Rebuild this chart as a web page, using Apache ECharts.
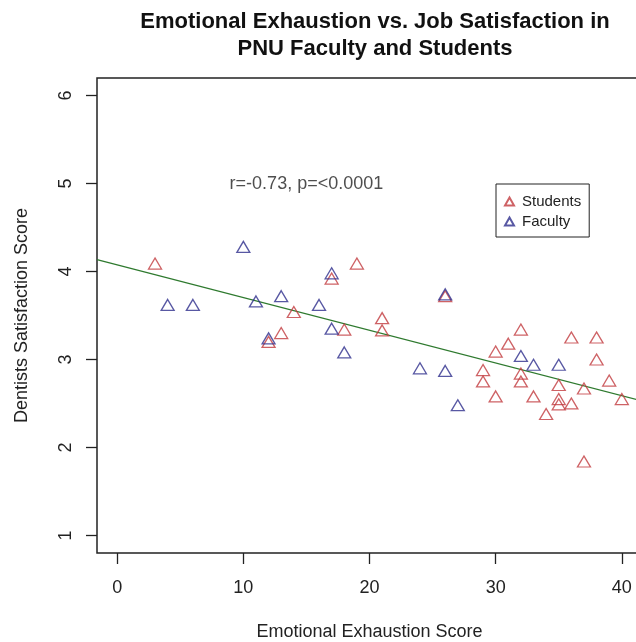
<!DOCTYPE html>
<html>
<head>
<meta charset="utf-8">
<script src="https://cdn.jsdelivr.net/npm/echarts@6/dist/echarts.min.js"></script>
<style>
html,body{margin:0;padding:0;background:#fff;overflow:hidden;}
#chart{width:636px;height:642px;}
</style>
</head>
<body>
<div id="chart"></div>
<script>
// ---- data ----
var titleLines = ['Emotional Exhaustion vs. Job Satisfaction in', 'PNU Faculty and Students'];
var xTitle = 'Emotional Exhaustion Score';
var yTitle = 'Dentists Satisfaction Score';
var xTicks = [0, 10, 20, 30, 40];
var yTicks = [1, 2, 3, 4, 5, 6];
var seriesNames = ['Students', 'Faculty'];
var annotation = 'r=-0.73, p=<0.0001';
var annotationPos = [15, 5];

var studentsX = [3, 12, 13, 14, 17, 18, 19, 21, 21, 26, 29, 29, 30, 30, 31, 32, 32, 32, 33, 34, 35, 35, 35, 36, 36, 37, 37, 38, 38, 39, 40];
var studentsY = [4.09, 3.20, 3.30, 3.54, 3.92, 3.34, 4.09, 3.47, 3.33, 3.72, 2.88, 2.75, 3.09, 2.58, 3.18, 3.34, 2.84, 2.75, 2.58, 2.38, 2.71, 2.55, 2.49, 3.25, 2.50, 2.67, 1.84, 3.25, 3.00, 2.76, 2.55];

var facultyX = [4, 6, 10, 11, 12, 13, 16, 17, 17, 18, 24, 26, 26, 27, 32, 33, 35];
var facultyY = [3.62, 3.62, 4.28, 3.66, 3.24, 3.72, 3.62, 3.98, 3.35, 3.08, 2.90, 3.74, 2.87, 2.48, 3.04, 2.94, 2.94];

// fitted line end points (at the plot limits)
var fitX = [-1.6, 41.6];
var fitY = [4.136, 2.528];

var xRange = [-1.6, 41.6];
var yRange = [0.8, 6.2];

function zip(a, b) { return a.map(function (v, i) { return [v, b[i]]; }); }

var FONT = '"Liberation Sans", Arial, sans-serif';
var RED = '#c23b3f';
var BLUE = '#2e2e8c';
var GREEN = '#2f7a2f';
var INK = '#222';

var chart = echarts.init(document.getElementById('chart'), null, {renderer: 'canvas'});
var option = {
  animation: false,
  backgroundColor: '#fff',
  textStyle: {fontFamily: FONT},
  title: {
    text: titleLines.join('\n'),
    left: 370,
    textAlign: 'center',
    top: 3,
    textStyle: {fontFamily: FONT, fontSize: 22, fontWeight: 'bold', color: '#111', lineHeight: 27}
  },
  grid: {
    left: 97, top: 78, right: -6, bottom: 89,
    outerBoundsMode: 'none',
    containLabel: false,
    show: true, borderColor: '#222', borderWidth: 1.5, backgroundColor: 'transparent'
  },
  legend: {
    orient: 'vertical',
    left: 496, top: 184,
    data: seriesNames,
    icon: 'triangle',
    itemWidth: 9, itemHeight: 8, itemGap: 5,
    padding: [10, 8, 8, 8],
    borderColor: '#222', borderWidth: 1,
    textStyle: {fontFamily: FONT, fontSize: 15, color: INK, padding: [0, 0, 0, 3]}
  },
  xAxis: {
    type: 'value', min: xRange[0], max: xRange[1],
    axisLine: {show: false, onZero: false},
    splitLine: {show: false},
    axisTick: {show: true, customValues: xTicks, length: 11, lineStyle: {color: '#222', width: 1.3}},
    axisLabel: {customValues: xTicks, fontFamily: FONT, fontSize: 18, color: INK, margin: 26},
    name: xTitle, nameLocation: 'middle', nameGap: 70,
    nameMoveOverlap: false,
    nameTextStyle: {fontFamily: FONT, fontSize: 18, color: INK}
  },
  yAxis: {
    type: 'value', min: yRange[0], max: yRange[1],
    axisLine: {show: false, onZero: false},
    splitLine: {show: false},
    axisTick: {show: true, customValues: yTicks, length: 11, lineStyle: {color: '#222', width: 1.3}},
    axisLabel: {customValues: yTicks, rotate: 90, fontFamily: FONT, fontSize: 18, color: INK, margin: 22},
    name: yTitle, nameLocation: 'middle', nameGap: 66,
    nameMoveOverlap: false,
    nameTextStyle: {fontFamily: FONT, fontSize: 18, color: INK}
  },
  series: [
    {
      name: seriesNames[0], type: 'scatter',
      data: zip(studentsX, studentsY),
      symbol: 'triangle', symbolSize: [13, 11],
      itemStyle: {color: 'transparent', borderColor: RED, borderWidth: 1.3},
      emphasis: {disabled: true}, z: 3
    },
    {
      name: seriesNames[1], type: 'scatter',
      data: zip(facultyX, facultyY),
      symbol: 'triangle', symbolSize: [13, 11],
      itemStyle: {color: 'transparent', borderColor: BLUE, borderWidth: 1.3},
      emphasis: {disabled: true}, z: 4
    },
    {
      name: 'fit', type: 'line',
      data: zip(fitX, fitY),
      showSymbol: false, symbol: 'none',
      lineStyle: {color: GREEN, width: 1.3},
      emphasis: {disabled: true}, z: 2
    },
    {
      name: 'note', type: 'scatter',
      data: [annotationPos],
      symbolSize: 0,
      label: {show: true, position: 'inside', formatter: annotation, fontFamily: FONT, fontSize: 18, color: INK},
      emphasis: {disabled: true}, z: 5
    }
  ]
};
chart.setOption(option);
</script>
</body>
</html>
